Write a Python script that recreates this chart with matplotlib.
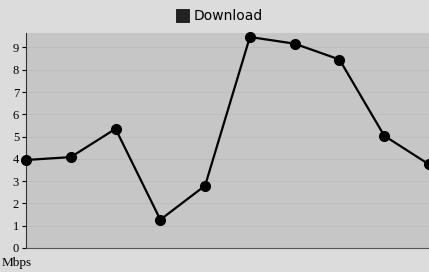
import matplotlib
matplotlib.use("Agg")
import matplotlib.pyplot as plt
from matplotlib.patches import Rectangle

x_index = list(range(10))
download = [3.95, 4.08, 5.35, 1.27, 2.8, 9.47, 9.17, 8.46, 5.04, 3.75]
y_ticks = [0, 1, 2, 3, 4, 5, 6, 7, 8, 9]
series_name = "Download"
unit_label = "Mbps"

fig = plt.figure(figsize=(4.29, 2.72), dpi=100, facecolor="#dcdcdc")
ax = fig.add_axes([26/429, 1 - 248/272, 1 - 26/429, (248 - 33)/272])
ax.set_facecolor("#c6c6c6")
ax.plot(x_index, download, color="black", lw=1.6, marker="o", ms=7,
        markerfacecolor="black", markeredgecolor="black", clip_on=False, zorder=5)
ax.set_xlim(0, 9)
ax.set_ylim(0, 9.65)
ax.set_yticks(y_ticks)
ax.set_yticklabels([str(v) for v in y_ticks], family="Liberation Serif", fontsize=9)
ax.set_xticks([])
ax.tick_params(axis="y", length=3, width=0.8, pad=2, colors="black")
for s in ["top", "right"]:
    ax.spines[s].set_visible(False)
ax.spines["left"].set_color("#333333")
ax.spines["bottom"].set_color("#555555")
ax.grid(axis="y", color="#bcbcbc", lw=0.6)
ax.set_axisbelow(True)

fig.text(2/429, 1 - 263/272, unit_label, family="Liberation Serif", fontsize=9.5,
         va="center", ha="left")
fig.patches.append(Rectangle((176/429, 1 - 22/272), 13/429, 13/272,
                             transform=fig.transFigure, facecolor="#222222",
                             edgecolor="black", lw=0.5))
fig.text(194/429, 1 - 16/272, series_name, fontsize=10, va="center", ha="left",
         family="DejaVu Sans")

fig.savefig("out.png", dpi=100, facecolor=fig.get_facecolor())
